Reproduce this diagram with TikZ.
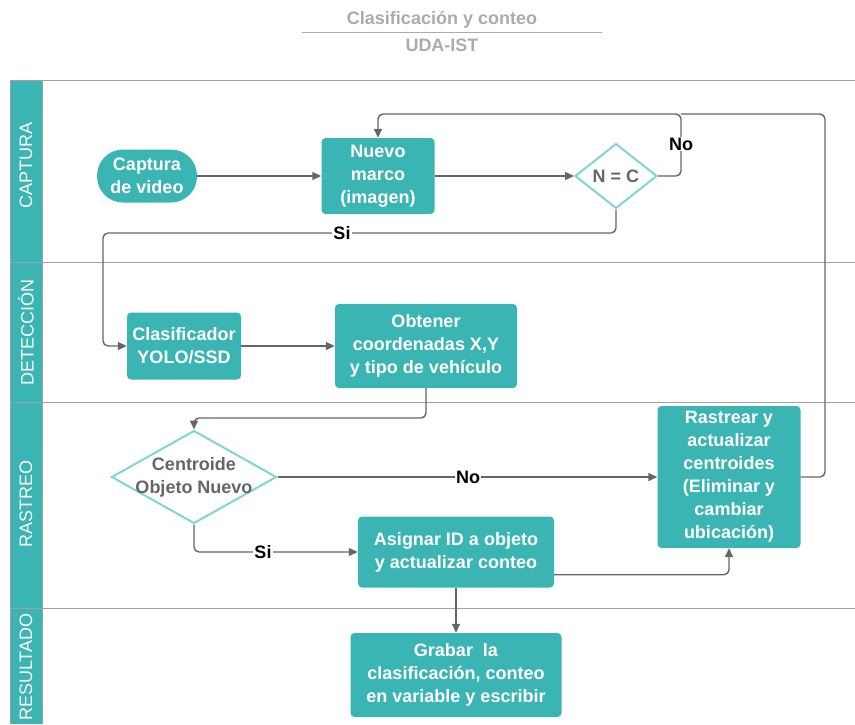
\documentclass[tikz,border=0pt]{standalone}
\usepackage{fontspec}
\setmainfont{Liberation Sans}
\usetikzlibrary{shapes.geometric,arrows.meta}

\definecolor{boxteal}{HTML}{3BB5B4}
\definecolor{diateal}{HTML}{80D6D5}
\definecolor{edgegray}{HTML}{666666}
\definecolor{lanegray}{HTML}{A0A0A0}
\definecolor{titlegray}{HTML}{ABABAB}

\tikzset{
  box/.style={rectangle, rounded corners=4pt, fill=boxteal, text=white, align=center, inner sep=0pt,
    font=\bfseries\fontsize{18}{23}\selectfont},
  decision/.style={diamond, draw=diateal, line width=2pt, fill=white, inner sep=0pt},
  dtext/.style={text=edgegray, align=center, font=\bfseries\fontsize{18}{23}\selectfont},
  flow/.style={draw=edgegray, line width=1.4pt, rounded corners=5pt},
  arr/.style={flow, -{Triangle[length=9pt,width=8pt]}},
  lbl/.style={fill=white, inner sep=1pt, font=\bfseries\fontsize{18}{20}\selectfont},
  lanetext/.style={rotate=90, text=white, font=\fontsize{18}{20}\selectfont},
  laneline/.style={draw=lanegray, line width=0.9pt}
}

\begin{document}
\begin{tikzpicture}[x=1pt, y=-1pt]
    \useasboundingbox (0,0) rectangle (855,724);

    % Title
    \node (title) [text=titlegray, font=\bfseries\fontsize{18}{20}\selectfont] at (442,20) {Clasificación y conteo};
    \node (subtitle) [text=titlegray, font=\bfseries\fontsize{18}{20}\selectfont] at (442,45) {UDA-IST};
    \draw[draw=titlegray, line width=0.8pt] (302,32) -- (602,32);

    % Lanes
    \fill[boxteal] (10,80) rectangle (42,724);
    \draw[laneline] (10,724) -- (10,80) -- (855,80);
    \draw[laneline] (10,262) -- (855,262);
    \draw[laneline] (10,402) -- (855,402);
    \draw[laneline] (10,608) -- (855,608);
    \draw[laneline] (42,80) -- (42,724);
    \node (lcap) [lanetext] at (26,165) {CAPTURA};
    \node (ldet) [lanetext] at (26,332) {DETECCIÓN};
    \node (lras) [lanetext] at (26,504) {RASTREO};
    \node (lres) [lanetext] at (26,667) {RESULTADO};

    % Nodes
    \node (cap) [box, rounded corners=26pt, minimum width=100pt, minimum height=53pt] at (147,176) {Captura\\de video};
    \node (nuevo) [box, minimum width=113pt, minimum height=76pt] at (378,176) {Nuevo\\marco\\(imagen)};
    \node (nc) [decision, minimum width=82pt, minimum height=65pt] at (616,176) {};
    \node (nctext) [dtext] at (nc) {N = C};
    \node (clasif) [box, minimum width=114pt, minimum height=67pt] at (184,346) {Clasificador\\YOLO/SSD};
    \node (obtener) [box, minimum width=182pt, minimum height=84pt] at (426,346) {Obtener\\coordenadas X,Y\\y tipo de vehículo};
    \node (cn) [decision, minimum width=165pt, minimum height=93pt] at (194,477) {};
    \node (cntext) [dtext] at (cn) {Centroide\\Objeto Nuevo};
    \node (asignar) [box, minimum width=196pt, minimum height=71pt] at (456,552) {Asignar ID a objeto\\y actualizar conteo};
    \node (rastrear) [box, minimum width=143pt, minimum height=142pt] at (729,477) {Rastrear y\\actualizar\\centroides\\(Eliminar y\\cambiar\\ubicación)};
    \node (grabar) [box, minimum width=211pt, minimum height=84pt] at (456,675) {Grabar\ \ la\\clasificación, conteo\\en variable y escribir};

    % Corners
    \coordinate (noturn) at (681,114);
    \coordinate (looptop) at (825,114);
    \coordinate (sileft) at (103,233);
    \coordinate (obtturn) at (426,418);

    % Edges
    \draw[arr] (cap) -- (nuevo);
    \draw[arr] (nuevo) -- (nc);
    \draw[arr] (nc.east) -| (noturn) -| (nuevo.north);
    \draw[flow] (rastrear.east) -| (looptop) -- (noturn);
    \draw[arr] (nc.south) |- (sileft) |- (clasif.west);
    \draw[arr] (clasif) -- (obtener);
    \draw[arr] (obtener.south) -- (obtturn) -| (cn.north);
    \draw[arr] (cn.east) -- (rastrear.west);
    \draw[arr] (cn.south) |- (asignar.west);
    \draw[arr] ([yshift=13pt]asignar.south east) -| (rastrear.south);
    \draw[arr] (asignar.south) -- (grabar.north);

    % Labels
    \node (lno1) [lbl] at (681,144) {No};
    \node (lsi1) [lbl] at (342,233) {Si};
    \node (lno2) [lbl] at (468,477) {No};
    \node (lsi2) [lbl] at (263,552) {Si};
\end{tikzpicture}
\end{document}
